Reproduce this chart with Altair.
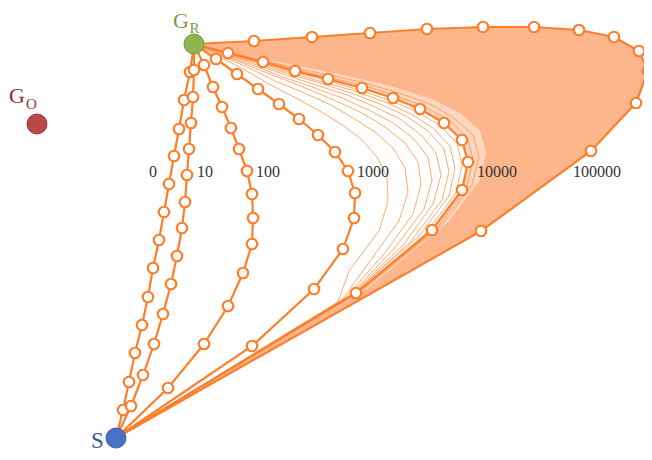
import altair as alt
import pandas as pd

# Node positions (diagram coordinates, y grows downward)
node_names = ["S", "G_R", "G_O"]
node_x = [116, 194, 37]
node_y = [438, 44, 124]
node_fill = ["#4a72c2", "#8fb550", "#b94848"]
node_stroke = ["#3c5fa8", "#74993d", "#9c3a3a"]

# Highlighted paths: interior waypoints from S side to G_R side
path_labels = ["0", "10", "100", "1000", "10000", "100000"]
path_x = {
    "0": [123, 129, 135, 142, 148, 153, 159, 164, 169, 174, 179, 184, 190],
    "10": [131, 143, 154, 163, 171, 177, 182, 185, 187, 189, 191, 193, 194],
    "100": [168, 204, 228, 243, 252, 253, 252, 247, 239, 231, 222, 213, 204],
    "1000": [252, 314, 343, 354, 355, 348, 335, 318, 299, 279, 258, 237, 216],
    "10000": [356, 432, 462, 468, 462, 444, 420, 393, 362, 328, 295, 263, 228],
    "100000": [481, 591, 636, 648, 639, 614, 579, 534, 483, 427, 370, 312, 254],
}
path_y = {
    "0": [410, 382, 353, 325, 297, 268, 240, 212, 184, 156, 129, 100, 72],
    "10": [406, 375, 344, 314, 284, 256, 228, 202, 175, 149, 123, 97, 70],
    "100": [388, 344, 306, 273, 244, 218, 194, 171, 149, 128, 107, 87, 65],
    "1000": [346, 289, 249, 218, 193, 171, 152, 135, 119, 104, 89, 74, 59],
    "10000": [293, 230, 190, 162, 140, 123, 109, 98, 88, 79, 71, 62, 53],
    "100000": [231, 151, 103, 71, 51, 37, 30, 27, 27, 29, 33, 37, 41],
}

# Thin intermediate paths between 1000 and 10000 (read approximately)
thin_x = [
    [338, 349, 379, 388, 387, 377, 361, 341, 318, 294, 269, 245, 220],
    [342, 370, 399, 408, 405, 393, 375, 353, 329, 302, 275, 249, 222],
    [345, 384, 413, 421, 418, 405, 385, 362, 336, 308, 280, 252, 223],
    [348, 394, 424, 432, 428, 413, 393, 369, 342, 312, 283, 255, 224],
    [350, 404, 433, 441, 436, 421, 400, 375, 347, 316, 286, 257, 225],
    [352, 412, 442, 449, 444, 428, 406, 380, 351, 320, 289, 259, 226],
    [353, 419, 449, 455, 450, 433, 411, 385, 355, 323, 291, 260, 227],
    [355, 426, 456, 462, 457, 439, 416, 389, 359, 326, 293, 262, 227],
    # just outside the 10000 path, where the dense band starts
    [360, 437, 467, 473, 467, 449, 425, 397, 366, 331, 297, 265, 229],
    [364, 442, 472, 479, 473, 454, 430, 402, 369, 334, 300, 266, 230],
]
thin_y = [
    [302, 271, 231, 201, 177, 157, 139, 124, 110, 97, 84, 70, 57],
    [300, 261, 221, 192, 168, 148, 132, 118, 104, 92, 81, 68, 56],
    [298, 254, 214, 185, 162, 143, 127, 113, 101, 89, 78, 67, 55],
    [297, 249, 209, 180, 157, 138, 123, 110, 98, 87, 77, 66, 55],
    [296, 244, 204, 175, 153, 135, 119, 107, 95, 85, 75, 65, 54],
    [295, 240, 200, 172, 149, 131, 116, 104, 93, 83, 74, 64, 54],
    [294, 236, 196, 168, 146, 128, 114, 102, 91, 82, 73, 63, 54],
    [294, 233, 193, 165, 143, 125, 111, 100, 90, 80, 72, 63, 53],
    [291, 228, 187, 159, 137, 120, 107, 96, 86, 78, 70, 61, 53],
    [289, 225, 185, 157, 135, 118, 104, 94, 84, 76, 69, 61, 52],
]

# inner edge of the dense band (between 10000 and 100000)
band_inner_x = [369, 448, 479, 486, 480, 461, 436, 407, 374, 338, 303, 268, 231]
band_inner_y = [287, 222, 181, 153, 131, 114, 101, 91, 82, 74, 67, 60, 52]

label_x = [153, 205, 268, 373, 497, 597]
label_y = [172, 172, 172, 172, 172, 172]

ORANGE = "#fd7f2c"

sx, sy = node_x[0], node_y[0]
gx, gy = node_x[1], node_y[1]

rows = []
for name in path_labels:
    xs = [sx] + path_x[name] + [gx]
    ys = [sy] + path_y[name] + [gy]
    for i, (a, b) in enumerate(zip(xs, ys)):
        rows.append({"path": name, "order": i, "x": a, "y": b})
main_df = pd.DataFrame(rows)

pts = []
for name in path_labels:
    for a, b in zip(path_x[name], path_y[name]):
        pts.append({"path": name, "x": a, "y": b})
pts_df = pd.DataFrame(pts)

thin_rows = []
for k, (xs0, ys0) in enumerate(zip(thin_x, thin_y)):
    xs = [sx] + xs0 + [gx]
    ys = [sy] + ys0 + [gy]
    for i, (a, b) in enumerate(zip(xs, ys)):
        thin_rows.append({"line": k, "order": i, "x": a, "y": b})
thin_df = pd.DataFrame(thin_rows)

# lighter zone between the 10000 path and the band's inner edge
light_x = [sx] + path_x["10000"] + [gx] + band_inner_x[::-1]
light_y = [sy] + path_y["10000"] + [gy] + band_inner_y[::-1]
light_df = pd.DataFrame({"order": list(range(len(light_x))), "x": light_x, "y": light_y})

# dense band polygon between its inner edge and the 100000 path
poly_x = [sx] + band_inner_x + [gx] + path_x["100000"][::-1]
poly_y = [sy] + band_inner_y + [gy] + path_y["100000"][::-1]
poly_df = pd.DataFrame({"order": list(range(len(poly_x))), "x": poly_x, "y": poly_y})

nodes_df = pd.DataFrame({"name": node_names, "x": node_x, "y": node_y,
                         "fill": node_fill, "stroke": node_stroke})
labels_df = pd.DataFrame({"text": path_labels, "x": label_x, "y": label_y})

X = alt.X("x:Q", scale=alt.Scale(domain=[8, 644], nice=False, zero=False), axis=None)
Y = alt.Y("y:Q", scale=alt.Scale(domain=[8, 452], nice=False, zero=False, reverse=True), axis=None)

light = alt.Chart(light_df).mark_line(fill="#fdbb92", fillOpacity=0.6, strokeOpacity=0).encode(
    x=X, y=Y, order="order:Q")

band = alt.Chart(poly_df).mark_line(fill="#fdb285", fillOpacity=0.95, strokeOpacity=0).encode(
    x=X, y=Y, order="order:Q")

thin = alt.Chart(thin_df).mark_line(stroke="#fd8f45", strokeWidth=0.8, opacity=0.95).encode(
    x=X, y=Y, order="order:Q", detail="line:N")

main = alt.Chart(main_df).mark_line(stroke=ORANGE, strokeWidth=2.2).encode(
    x=X, y=Y, order="order:Q", detail="path:N")

way = alt.Chart(pts_df).mark_point(shape="circle", filled=True, fill="white", stroke=ORANGE,
                                   strokeWidth=2.2, size=110, opacity=1).encode(x=X, y=Y)

nodes = alt.Chart(nodes_df).mark_point(shape="circle", filled=True, size=400, strokeWidth=1,
                                       opacity=1).encode(
    x=X, y=Y,
    fill=alt.Fill("fill:N", scale=None),
    stroke=alt.Stroke("stroke:N", scale=None))

num_labels = alt.Chart(labels_df).mark_text(font="Liberation Serif", fontSize=16, color="#333333",
                                            align="center", baseline="middle").encode(
    x=X, y=Y, text="text:N")

big_df = pd.DataFrame({"text": ["S", "G", "G"], "x": [97.5, 173, 9], "y": [448, 28, 103],
                       "color": ["#3c5a99", "#7d9c45", "#8b3232"]})
sub_df = pd.DataFrame({"text": ["R", "O"], "x": [189.5, 26], "y": [33, 109],
                       "color": ["#7d9c45", "#8b3232"]})

big_s = alt.Chart(big_df.iloc[[0]]).mark_text(font="Liberation Serif", fontSize=23, align="center",
                                              baseline="alphabetic").encode(
    x=X, y=Y, text="text:N", color=alt.Color("color:N", scale=None))
big_g = alt.Chart(big_df.iloc[1:]).mark_text(font="Liberation Serif", fontSize=22, align="left",
                                             baseline="alphabetic").encode(
    x=X, y=Y, text="text:N", color=alt.Color("color:N", scale=None))
subs = alt.Chart(sub_df).mark_text(font="Liberation Serif", fontSize=15, align="left",
                                   baseline="alphabetic").encode(
    x=X, y=Y, text="text:N", color=alt.Color("color:N", scale=None))

chart = alt.layer(light, band, thin, main, way, nodes, num_labels, big_s, big_g, subs).properties(
    width=636, height=444, padding=0, autosize=alt.AutoSizeParams(type="none")
).configure_view(stroke=None)

chart.save("out.html", embed_options={"renderer": "svg", "actions": False})
